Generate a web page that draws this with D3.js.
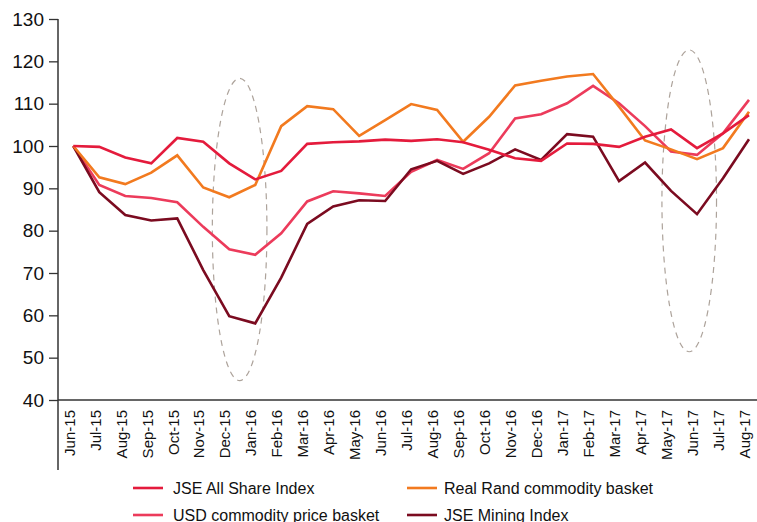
<!DOCTYPE html>
<html>
<head>
<meta charset="utf-8">
<script src="https://cdn.jsdelivr.net/npm/d3@7"></script>
<style>
  body { margin: 0; background: #fff; }
  svg { display: block; font-family: "Liberation Sans", Arial, Helvetica, sans-serif; }
</style>
</head>
<body>
<svg width="757" height="522"></svg>
<script>
// months on the x axis
var months = ["Jun-15","Jul-15","Aug-15","Sep-15","Oct-15","Nov-15","Dec-15","Jan-16","Feb-16","Mar-16",
  "Apr-16","May-16","Jun-16","Jul-16","Aug-16","Sep-16","Oct-16","Nov-16","Dec-16","Jan-17",
  "Feb-17","Mar-17","Apr-17","May-17","Jun-17","Jul-17","Aug-17"];

// values (index, Jun-15 = 100)
var jseAllShare = [100, 99.8, 97.3, 95.9, 101.9, 101, 95.9, 92.1, 94.1, 100.5,
  100.9, 101.1, 101.5, 101.2, 101.6, 100.9, 99.1, 97.1, 96.5, 100.6,
  100.5, 99.8, 102.2, 103.9, 99.5, 103, 107.3];
var realRand = [100, 92.6, 91.0, 93.7, 97.8, 90.2, 87.9, 90.8, 104.7, 109.4,
  108.7, 102.4, 106.1, 109.9, 108.5, 101, 106.9, 114.3, 115.4, 116.4,
  117, 109.3, 101.3, 99.2, 96.9, 99.5, 108.1];
var usdBasket = [100, 90.8, 88.2, 87.7, 86.7, 80.9, 75.6, 74.3, 79.4, 86.9,
  89.3, 88.8, 88.2, 93.9, 96.7, 94.6, 98.3, 106.5, 107.5, 110.1,
  114.2, 110.1, 104.7, 98.7, 97.9, 103, 110.9];
var jseMining = [100, 89.1, 83.7, 82.4, 82.9, 70.7, 59.8, 58.1, 68.9, 81.6,
  85.7, 87.2, 87, 94.5, 96.5, 93.4, 95.9, 99.2, 96.7, 102.8,
  102.2, 91.7, 96.1, 89.4, 83.9, 92.4, 101.6];

var yTicks = [40, 50, 60, 70, 80, 90, 100, 110, 120, 130];

// highlighted periods: month index of the centre, value range covered
var ellipses = [
  { at: 6.4, lo: 44.6, hi: 116.0 },
  { at: 23.7, lo: 51.4, hi: 122.7 }
];

var series = [
  { name: "USD commodity price basket", values: usdBasket, color: "#ec3b5b" },
  { name: "JSE Mining Index", values: jseMining, color: "#7b0b20" },
  { name: "Real Rand commodity basket", values: realRand, color: "#f27a1f" },
  { name: "JSE All Share Index", values: jseAllShare, color: "#e41b3c" }
];
var legendOrder = [3, 2, 0, 1];

var svg = d3.select("svg");

var x = d3.scalePoint()
    .domain(months)
    .range([73.3, 749]);
var step = x.step();

var y = d3.scaleLinear()
    .domain([40, 130])
    .range([400, 19]);

// y axis
var gy = svg.append("g")
    .attr("transform", "translate(58,0)")
    .call(d3.axisLeft(y).tickValues(yTicks).tickSize(9).tickPadding(5));
gy.select(".domain").remove();
gy.selectAll("line").attr("stroke", "#333").attr("stroke-width", 1.3);
gy.selectAll("text")
    .attr("fill", "#111")
    .style("font-size", "19px");

// axis lines
svg.append("line")
    .attr("x1", 58).attr("x2", 58)
    .attr("y1", y(130)).attr("y2", 470)
    .attr("stroke", "#333").attr("stroke-width", 1.5);
svg.append("line")
    .attr("x1", 58).attr("x2", 757)
    .attr("y1", y(40)).attr("y2", y(40))
    .attr("stroke", "#333").attr("stroke-width", 1.5);

// x axis labels
var gx = svg.append("g")
    .attr("transform", "translate(0," + y(40) + ")")
    .call(d3.axisBottom(x).tickSize(0));
gx.select(".domain").remove();
gx.selectAll("text")
    .attr("transform", "rotate(-90)")
    .attr("x", -10)
    .attr("y", 0)
    .attr("dy", "0.05em")
    .style("text-anchor", "end")
    .style("font-size", "15px")
    .attr("fill", "#111");

// dashed ellipses
svg.selectAll(".hl")
    .data(ellipses)
    .enter()
  .append("ellipse")
    .attr("class", "hl")
    .attr("cx", d => x(months[0]) + d.at * step)
    .attr("cy", d => (y(d.lo) + y(d.hi)) / 2)
    .attr("rx", 27.3)
    .attr("ry", d => (y(d.lo) - y(d.hi)) / 2)
    .attr("fill", "none")
    .attr("stroke", "#ada39b")
    .attr("stroke-width", 1.2)
    .attr("stroke-dasharray", "6,5");

// lines
var line = d3.line()
    .x((d, i) => x(months[i]))
    .y(d => y(d));

svg.selectAll(".series")
    .data(series)
    .enter()
  .append("path")
    .attr("class", "series")
    .attr("d", d => line(d.values))
    .attr("fill", "none")
    .attr("stroke", d => d.color)
    .attr("stroke-width", 2.6)
    .attr("stroke-linejoin", "miter");

// legend
var legend = svg.selectAll(".legend")
    .data(legendOrder.map(i => series[i]))
    .enter()
  .append("g")
    .attr("class", "legend")
    .attr("transform", (d, i) => "translate(" + (i % 2 ? 407 : 133) + "," + (i < 2 ? 488 : 515) + ")");

legend.append("line")
    .attr("x1", 0).attr("x2", 30)
    .attr("stroke", d => d.color)
    .attr("stroke-width", 2.6);

legend.append("text")
    .attr("x", (d, i) => i % 2 ? 37 : 40)
    .attr("dy", "0.35em")
    .style("font-size", "16px")
    .attr("fill", "#111")
    .text(d => d.name);
</script>
</body>
</html>
